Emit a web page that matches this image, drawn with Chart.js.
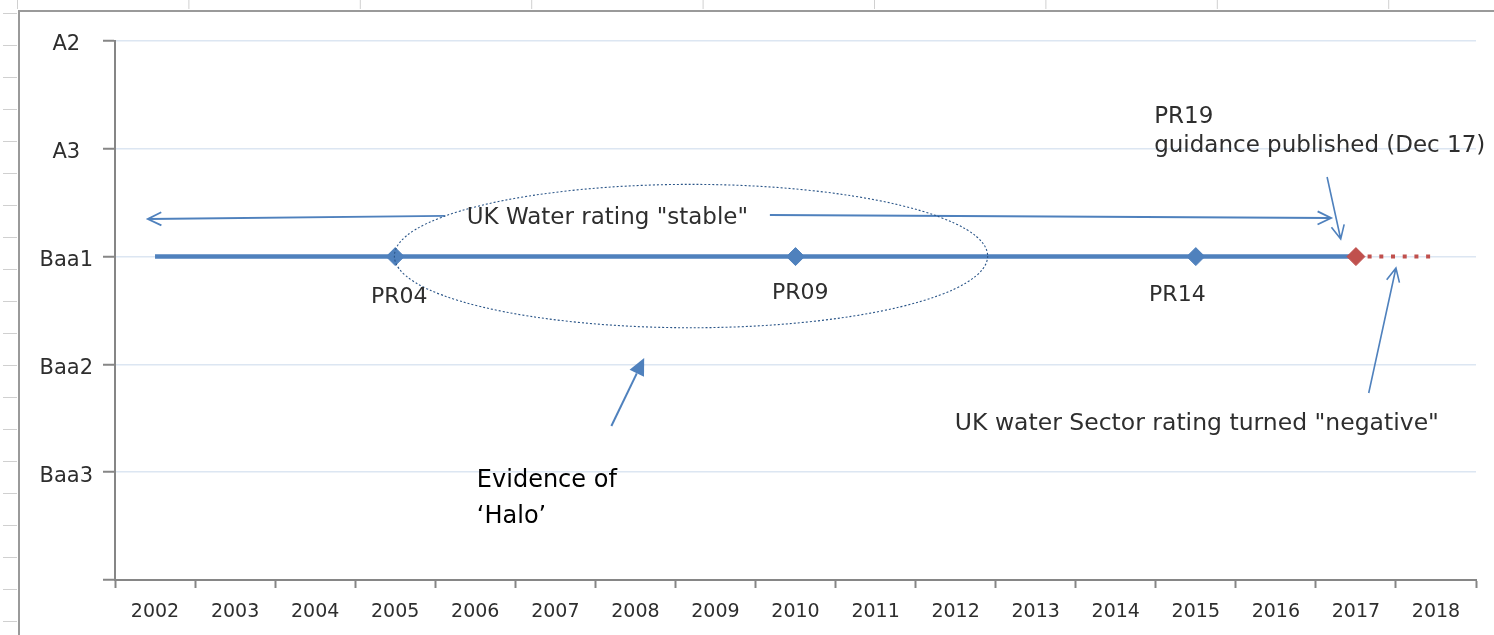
<!DOCTYPE html>
<html lang="en">
<head>
<meta charset="utf-8">
<title>UK Water sector rating</title>
<script src="https://cdn.jsdelivr.net/npm/chart.js@4.4.1/dist/chart.umd.min.js"></script>
<style>
  html, body { margin: 0; padding: 0; background: #ffffff; }
  #chartBox { position: relative; width: 1494px; height: 635px; }
</style>
</head>
<body>
<div id="chartBox"><canvas id="ratingChart" width="1494" height="635"></canvas></div>
<script>
// ---- data ----
const years = ['2002', '2003', '2004', '2005', '2006', '2007', '2008', '2009', '2010',
               '2011', '2012', '2013', '2014', '2015', '2016', '2017', '2018'];
// y value -> rating label (0 is the empty bottom line)
const ratingLabels = ['', 'Baa3', 'Baa2', 'Baa1', 'A3', 'A2'];
const sectorRating = [3, 3, 3, 3, 3, 3, 3, 3, 3, 3, 3, 3, 3, 3, 3, 3, null];
const negativeOutlook = [null, null, null, null, null, null, null, null, null,
                         null, null, null, null, null, null, 3, 3];
const reviewYears = ['2005', '2010', '2015'];
const reviewNames = ['PR04', 'PR09', 'PR14'];
const guidanceYear = '2017';

const BLUE = '#4F81BD';
const RED = '#C0504D';
const GRID = '#DCE6F2';
const AXIS = '#868686';
const TEXT = '#2E2E2E';
const FONT = "'DejaVu Sans', sans-serif";

document.addEventListener('DOMContentLoaded', () => {
    drawRatingChart();
});

/**
 * Annotation layer: arrows, ellipse and notes, placed in axis units
 * (x = category index, y = rating value) so they follow the scales.
 */
const notesPlugin = {
    id: 'notes',
    afterDatasetsDraw(chart) {
        const ctx = chart.ctx;
        const X = v => chart.scales.x.getPixelForValue(v);
        const Y = v => chart.scales.y.getPixelForValue(v);

        ctx.save();

        // "stable" arrows on both sides of the note
        ctx.strokeStyle = BLUE;
        ctx.lineWidth = 1.8;
        openArrow(ctx, X(3.62), Y(3.377), X(-0.09), Y(3.349), 15);
        openArrow(ctx, X(7.68), Y(3.386), X(14.69), Y(3.358), 15);

        // dotted ellipse round the PR04 / PR09 period
        ctx.strokeStyle = '#2A5588';
        ctx.lineWidth = 1.1;
        ctx.setLineDash([2, 2]);
        const left = X(2.99), right = X(10.40), top = Y(3.67), bottom = Y(2.34);
        ctx.beginPath();
        ctx.ellipse((left + right) / 2, (top + bottom) / 2, (right - left) / 2, (bottom - top) / 2, 0, 0, Math.PI * 2);
        ctx.stroke();
        ctx.setLineDash([]);

        // arrows towards the end of the line
        ctx.strokeStyle = BLUE;
        ctx.lineWidth = 1.6;
        openArrow(ctx, X(14.64), Y(3.738), X(14.81), Y(3.163), 15);
        openArrow(ctx, X(15.16), Y(1.735), X(15.50), Y(2.894), 15);

        // solid arrow to the halo
        ctx.lineWidth = 2;
        filledArrow(ctx, X(5.70), Y(1.429), X(6.11), Y(2.059), 17, 8);

        // texts
        ctx.fillStyle = TEXT;
        ctx.textBaseline = 'alphabetic';
        ctx.font = '23px ' + FONT;
        ctx.textAlign = 'center';
        ctx.fillText('UK Water rating "stable"', X(5.65), Y(3.30));

        ctx.font = '22px ' + FONT;
        const reviewSpots = [[3.05, 2.57], [8.06, 2.607], [12.77, 2.588]];
        reviewNames.forEach((name, k) => {
            ctx.fillText(name, X(reviewSpots[k][0]), Y(reviewSpots[k][1]));
        });

        ctx.textAlign = 'left';
        ctx.font = '23px ' + FONT;
        ctx.fillText('PR19', X(12.48), Y(4.239));
        ctx.fillText('guidance published (Dec 17)', X(12.48), Y(3.970));
        ctx.font = '23.5px ' + FONT;
        ctx.fillText('UK water Sector rating turned "negative"', X(9.99), Y(1.391));

        ctx.fillStyle = '#000000';
        ctx.font = '24px ' + FONT;
        ctx.fillText('Evidence of', X(4.02), Y(0.863));
        ctx.fillText('\u2018Halo\u2019', X(4.02), Y(0.529));

        ctx.restore();
    }
};

/**
 * Spreadsheet frame behind the chart (cell borders of the sheet).
 */
const sheetPlugin = {
    id: 'sheet',
    beforeDraw(chart) {
        const ctx = chart.ctx;
        ctx.save();
        ctx.fillStyle = '#ffffff';
        ctx.fillRect(0, 0, chart.width, chart.height);

        ctx.strokeStyle = '#D0D0D0';
        ctx.lineWidth = 1;
        for (let x = 17.5; x < chart.width; x += 171.4) {
            ctx.beginPath();
            ctx.moveTo(x, 0);
            ctx.lineTo(x, 9);
            ctx.stroke();
        }
        for (let y = 13.5; y < chart.height; y += 32) {
            ctx.beginPath();
            ctx.moveTo(3, y);
            ctx.lineTo(17, y);
            ctx.stroke();
        }
        ctx.strokeStyle = '#9A9A9A';
        ctx.lineWidth = 2;
        ctx.beginPath();
        ctx.moveTo(chart.width, 11);
        ctx.lineTo(19, 11);
        ctx.lineTo(19, chart.height);
        ctx.stroke();
        ctx.restore();
    }
};

function openArrow(ctx, x1, y1, x2, y2, head) {
    const a = Math.atan2(y2 - y1, x2 - x1);
    ctx.beginPath();
    ctx.moveTo(x1, y1);
    ctx.lineTo(x2, y2);
    ctx.moveTo(x2 - head * Math.cos(a - 0.45), y2 - head * Math.sin(a - 0.45));
    ctx.lineTo(x2, y2);
    ctx.lineTo(x2 - head * Math.cos(a + 0.45), y2 - head * Math.sin(a + 0.45));
    ctx.stroke();
}

function filledArrow(ctx, x1, y1, x2, y2, head, half) {
    const a = Math.atan2(y2 - y1, x2 - x1);
    const bx = x2 - head * Math.cos(a), by = y2 - head * Math.sin(a);
    ctx.beginPath();
    ctx.moveTo(x1, y1);
    ctx.lineTo(bx, by);
    ctx.stroke();
    ctx.fillStyle = BLUE;
    ctx.beginPath();
    ctx.moveTo(x2, y2);
    ctx.lineTo(bx + half * Math.sin(a), by - half * Math.cos(a));
    ctx.lineTo(bx - half * Math.sin(a), by + half * Math.cos(a));
    ctx.closePath();
    ctx.fill();
}

/**
 * ========================================
 * Rating line (Baa1 from 2002 to 2017, negative outlook afterwards)
 * ========================================
 */
function drawRatingChart() {
    const ctx = document.getElementById('ratingChart');

    const markerRadius = years.map(y => (reviewYears.includes(y) || y === guidanceYear) ? 9 : 0);
    const markerColor = years.map(y => y === guidanceYear ? RED : BLUE);

    new Chart(ctx, {
        type: 'line',
        data: {
            labels: years,
            datasets: [{
                label: 'Sector rating',
                data: sectorRating,
                borderColor: BLUE,
                borderWidth: 4.5,
                tension: 0,
                pointStyle: 'rectRot',
                pointRadius: markerRadius,
                pointBackgroundColor: markerColor,
                pointBorderColor: markerColor,
                pointBorderWidth: 1
            }, {
                label: 'Negative outlook',
                data: negativeOutlook,
                borderColor: RED,
                borderWidth: 4,
                borderDash: [4, 7.7],
                tension: 0,
                pointRadius: 0
            }]
        },
        options: {
            responsive: false,
            animation: false,
            layout: {
                padding: { left: 30, top: 41, right: 18, bottom: 10 }
            },
            plugins: {
                legend: { display: false },
                tooltip: { enabled: false }
            },
            scales: {
                x: {
                    type: 'category',
                    offset: true,
                    grid: {
                        offset: true,
                        drawOnChartArea: false,
                        drawTicks: true,
                        tickLength: 8,
                        tickColor: AXIS,
                        tickWidth: 2
                    },
                    border: { color: AXIS, width: 2 },
                    ticks: {
                        color: TEXT,
                        font: { family: FONT, size: 19 },
                        padding: 13,
                        maxRotation: 0,
                        autoSkip: false
                    },
                    afterFit: scale => { scale.height = 45; }
                },
                y: {
                    type: 'linear',
                    min: 0,
                    max: 5,
                    grid: {
                        color: GRID,
                        lineWidth: 1.5,
                        drawTicks: true,
                        tickLength: 12,
                        tickColor: AXIS,
                        tickWidth: 2
                    },
                    border: { color: AXIS, width: 2 },
                    ticks: {
                        stepSize: 1,
                        callback: value => ratingLabels[value] ?? '',
                        crossAlign: 'center',
                        padding: 10,
                        labelOffset: 4,
                        color: TEXT,
                        font: { family: FONT, size: 21 }
                    },
                    afterFit: scale => { scale.width = 85; }
                }
            }
        },
        plugins: [sheetPlugin, notesPlugin]
    });
}
</script>
</body>
</html>
